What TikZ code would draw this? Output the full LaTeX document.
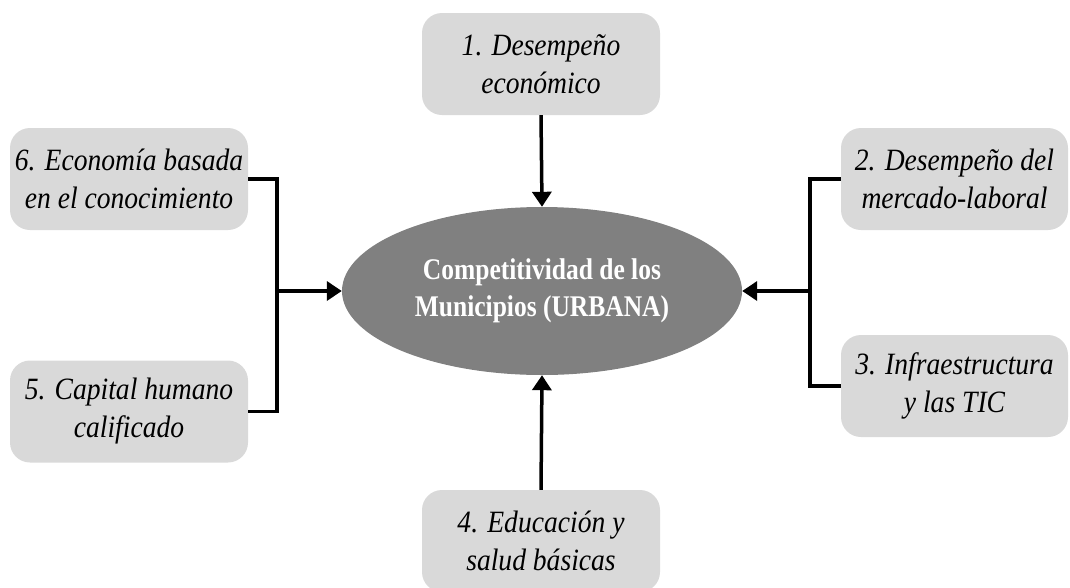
\documentclass[tikz,border=0pt]{standalone}
\usepackage{fontspec}
\setmainfont{Liberation Serif}
\newfontfamily\boxfont{Liberation Serif}[FakeStretch=0.89]
\newfontfamily\ellfont{Liberation Serif}[FakeStretch=0.85]
\usetikzlibrary{shapes.geometric,arrows.meta}
\definecolor{boxgray}{HTML}{D9D9D9}
\definecolor{ellgray}{HTML}{808080}
\begin{document}
\begin{tikzpicture}[x=1pt,y=-1pt,
  factor/.style={fill=boxgray, draw=none, rounded corners=20pt, minimum height=102pt,
    align=center, inner sep=0pt, font=\boxfont\itshape\fontsize{31}{38}\selectfont},
  core/.style={ellipse, fill=ellgray, draw=none, minimum width=400pt, minimum height=168pt,
    inner sep=0pt, align=center, text=white, font=\ellfont\bfseries\fontsize{30}{37}\selectfont},
  link/.style={line width=3.5pt},
  arr/.style={line width=3.5pt, -{Triangle[length=15pt,width=19pt]}}
]
\useasboundingbox (0,0) rectangle (1070,587);
\begin{scope}
\clip (0,0) rectangle (1070,587);
\node[core] (ell) at (542,291) {Competitividad de los\\Municipios (URBANA)};
\node[factor, minimum width=238pt] (b1) at (541,64) {1. Desempeño\\económico};
\node[factor, minimum width=227pt] (b2) at (954.5,179) {2. Desempeño del\\mercado-laboral};
\node[factor, minimum width=227pt] (b3) at (954.5,386) {3. Infraestructura\\y las TIC};
\node[factor, minimum width=238pt] (b4) at (541,541) {4. Educación y\\salud básicas};
\node[factor, minimum width=238pt] (b5) at (129,411.5) {5. Capital humano\\calificado};
\node[factor, minimum width=238pt] (b6) at (129,179) {6. Economía basada\\en el conocimiento};
\end{scope}
\coordinate (jl) at (277,291);
\coordinate (jr) at (810,291);
\draw[link] (b6.east) -| (jl) |- (b5.east);
\draw[link] (b2.west) -| (jr) |- (b3.west);
\draw[arr] (jl) -- (ell.west);
\draw[arr] (jr) -- (ell.east);
\draw[arr] (b1.south) -- (ell.north);
\draw[arr] (b4.north) -- (ell.south);
\end{tikzpicture}
\end{document}
